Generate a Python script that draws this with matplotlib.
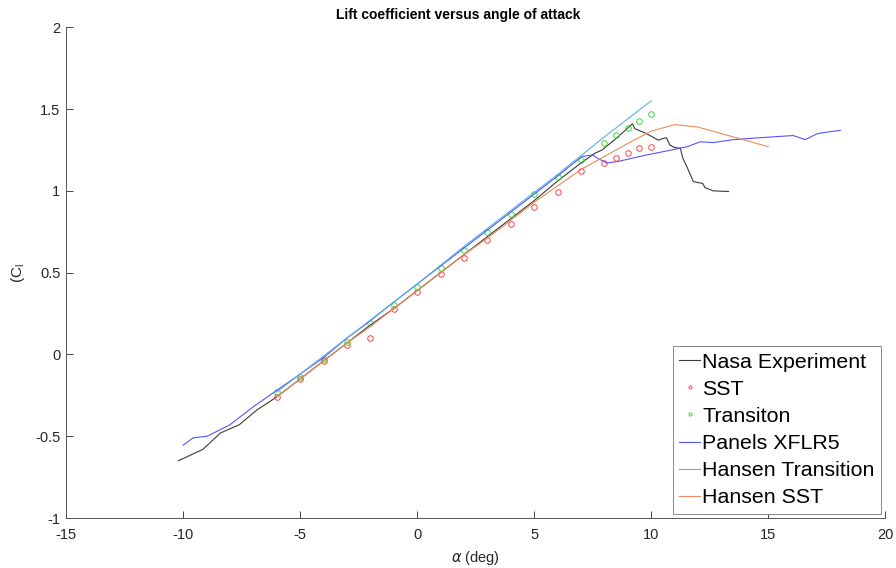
import matplotlib.pyplot as plt

plt.rcParams['font.family'] = ['Liberation Sans', 'DejaVu Sans']
plt.rcParams['mathtext.default'] = 'regular'

# NASA experiment
nasa_alpha = [-10.2, -9.6, -9.15, -8.4, -7.6, -6.85, -6.0, -5.0, -4.0, -3.0, -2.0, -1.0,
              0, 1, 2, 3, 4, 5, 6, 7, 7.3, 7.6, 7.9, 8.5, 9.2, 9.3, 9.8, 10.3, 10.5,
              10.65, 10.8, 11.0, 11.25, 11.35, 11.5, 11.7, 11.8, 12.2, 12.3, 12.65, 13.3]
nasa_cl = [-0.65, -0.61, -0.58, -0.48, -0.43, -0.34, -0.26, -0.15, -0.04, 0.07, 0.18, 0.28,
           0.39, 0.50, 0.61, 0.72, 0.83, 0.94, 1.06, 1.17, 1.20, 1.23, 1.25, 1.32, 1.41, 1.38,
           1.35, 1.31, 1.32, 1.325, 1.28, 1.265, 1.26, 1.20, 1.155, 1.09, 1.057, 1.045, 1.02,
           1.0, 0.996]

# SST simulation points
sst_alpha = [-6, -5, -4, -3, -2, -1, 0, 1, 2, 3, 4, 5, 6, 7, 8, 8.5, 9, 9.5, 10]
sst_cl = [-0.26, -0.15, -0.04, 0.06, 0.10, 0.275, 0.38, 0.49, 0.59, 0.70, 0.80, 0.90,
          0.995, 1.12, 1.17, 1.20, 1.23, 1.26, 1.265]

# transition simulation points
tr_alpha = [-6, -5, -4, -3, -2, -1, 0, 1, 2, 3, 4, 5, 6, 7, 8, 8.5, 9, 9.5, 10]
tr_cl = [-0.23, -0.14, -0.03, 0.075, 0.19, 0.30, 0.415, 0.53, 0.64, 0.75, 0.86, 0.98,
         1.085, 1.19, 1.295, 1.34, 1.385, 1.43, 1.47]

# XFLR5 panels
xf_alpha = [-10.0, -9.57, -8.97, -8.0, -7.0, -6.0, -5.0, -4.0, -3.0, -2.14, -1, 0, 1, 2,
            3, 4, 5, 6, 6.6, 7.05, 7.5, 7.7, 8.1, 8.6, 9.66, 10.7, 11.54, 12.1, 12.65,
            13.5, 14.66, 15.2, 16.07, 16.58, 17.1, 17.56, 18.08]
xf_cl = [-0.555, -0.51, -0.50, -0.43, -0.32, -0.22, -0.12, -0.02, 0.10, 0.19, 0.32, 0.43,
         0.54, 0.65, 0.76, 0.87, 0.98, 1.09, 1.16, 1.21, 1.22, 1.20, 1.17, 1.18, 1.215,
         1.245, 1.27, 1.30, 1.295, 1.313, 1.325, 1.33, 1.338, 1.313, 1.35, 1.36, 1.37]

# Hansen transition
ht_alpha = [-6, -4, -2, 0, 2, 4, 6, 8, 10]
ht_cl = [-0.23, -0.01, 0.21, 0.43, 0.66, 0.88, 1.10, 1.33, 1.55]

# Hansen SST
hs_alpha = [-6, -5, -4, -3, -2, -1, 0, 1, 2, 3, 4, 5, 6, 7, 8, 9, 10, 11, 12, 13, 14, 15]
hs_cl = [-0.26, -0.15, -0.04, 0.07, 0.17, 0.28, 0.39, 0.50, 0.61, 0.71, 0.82, 0.93, 1.03,
         1.13, 1.21, 1.29, 1.365, 1.405, 1.39, 1.35, 1.31, 1.27]

fig = plt.figure(figsize=(8.96, 5.68), dpi=100)
ax = fig.add_axes([0.0737, 0.088, 0.9143, 0.864])

ax.plot(nasa_alpha, nasa_cl, color='#3a3a3a', lw=0.8, label='Nasa Experiment')
ax.plot(sst_alpha, sst_cl, 'o', color='#ff4444', mfc='none', ms=4, mew=0.7, label='SST')
ax.plot(tr_alpha, tr_cl, 'o', color='#33dd33', mfc='none', ms=4, mew=0.7, label='Transiton')
ax.plot(xf_alpha, xf_cl, color='#5555ff', lw=0.8, label='Panels XFLR5')
ax.plot(ht_alpha, ht_cl, color='#5AB2E6', lw=0.8, label='Hansen Transition')
ax.plot(hs_alpha, hs_cl, color='#EC8A5E', lw=0.8, label='Hansen SST')

ax.set_xlim(-15, 20)
ax.set_ylim(-1, 2)
ax.set_xticks(range(-15, 21, 5))
ax.set_yticks([-1, -0.5, 0, 0.5, 1, 1.5, 2])
ax.set_yticklabels(['-1', '-0.5', '0', '0.5', '1', '1.5', '2'])
ax.set_xticklabels([str(v) for v in range(-15, 21, 5)])
ax.tick_params(direction='in', length=5, width=0.6, colors='#262626',
               labelsize=10.5, pad=4)
ax.tick_params(axis='x', pad=7)
for s in ['top', 'right']:
    ax.spines[s].set_visible(False)
for s in ['left', 'bottom']:
    ax.spines[s].set_color('#555555')
    ax.spines[s].set_linewidth(0.7)

ax.set_title('Lift coefficient versus angle of attack', fontsize=10, fontweight='bold',
             pad=6, x=0.479)
ax.set_xlabel(r'$\mathit{\alpha}$ (deg)', fontsize=10.5, color='#262626', labelpad=5)
ax.set_ylabel('(C$_l$', fontsize=11, color='#262626', labelpad=6)

leg = ax.legend(loc='lower right', fontsize=15.4, handlelength=1.0, handletextpad=0.08,
                labelspacing=0.38, borderpad=0.3, borderaxespad=0.2, fancybox=False,
                framealpha=1, markerscale=0.55)
leg.get_frame().set_edgecolor('#888888')
leg.get_frame().set_linewidth(0.7)

plt.savefig('out.png', dpi=100)
